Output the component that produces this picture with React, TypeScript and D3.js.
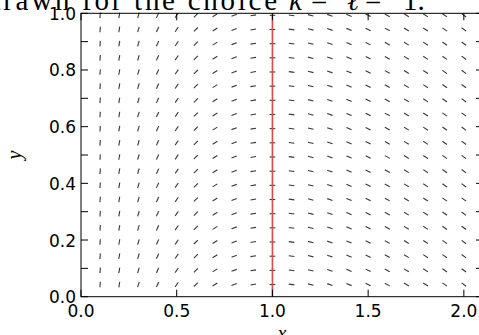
import React from "react";
import * as d3 from "d3";

const xGrid = [0.1, 0.2, 0.3, 0.4, 0.5, 0.6, 0.7, 0.8, 0.9, 1.0, 1.1, 1.2, 1.3, 1.4, 1.5, 1.6, 1.7, 1.8, 1.9, 2.0];
const yGrid = [0.05, 0.1, 0.15, 0.2, 0.25, 0.3, 0.35, 0.4, 0.45, 0.5, 0.55, 0.6, 0.65, 0.7, 0.75, 0.8, 0.85, 0.9, 0.95, 1.0];
const kParam = 1;
const lParam = 1;
const xTicks = [0.0, 0.5, 1.0, 1.5, 2.0];
const yTicksMinor = [0, 0.1, 0.2, 0.3, 0.4, 0.5, 0.6, 0.7, 0.8, 0.9, 1.0];
const yTickLabels = [0.0, 0.2, 0.4, 0.6, 0.8, 1.0];
const redLineX = 1.0;

const W = 479;
const H = 335;
const left = 81;
const right = 483;
const top = 13.3;
const bottom = 296.7;
const SERIF = "'Liberation Serif', 'DejaVu Serif', 'Times New Roman', serif";
const SANS = "'DejaVu Sans', 'Liberation Sans', sans-serif";

export default function App() {
  const x = d3.scaleLinear().domain([0, 2.1]).range([left, right]);
  const y = d3.scaleLinear().domain([0, 1]).range([bottom, top]);
  const slope = (xv: number) => kParam / xv - lParam;
  const L = 5.6;
  const marks: JSX.Element[] = [];
  xGrid.forEach((xv, i) => {
    const f = slope(xv);
    const dx = x(xv + 1) - x(xv);
    const dy = y(f) - y(0);
    const n = Math.hypot(dx, dy);
    const ux = (dx / n) * L;
    const uy = (dy / n) * L;
    yGrid.forEach((yv, j) => {
      const cx = x(xv);
      const cy = y(yv) + 2;
      marks.push(
        <line
          key={`${i}-${j}`}
          x1={cx - ux / 2}
          y1={cy - uy / 2}
          x2={cx + ux / 2}
          y2={cy + uy / 2}
          stroke="#38382e"
          strokeWidth={1.1}
        />
      );
    });
  });
  const tickLen = 7;
  return (
    <svg width={W} height={H} style={{ position: "absolute", left: 0, top: 0 }}>
      <rect x={0} y={0} width={W} height={H} fill="#fff" />
      <g>{marks}</g>
      <line x1={x(redLineX)} x2={x(redLineX)} y1={y(0)} y2={y(1)} stroke="#e24848" strokeWidth={1.6} />
      <rect x={left} y={top} width={right - left} height={bottom - top} fill="none" stroke="#000" strokeWidth={1} />
      {xTicks.map((t) => (
        <g key={`xt${t}`}>
          <line x1={x(t)} x2={x(t)} y1={bottom} y2={bottom - tickLen} stroke="#000" strokeWidth={1} />
          <line x1={x(t)} x2={x(t)} y1={top} y2={top + tickLen} stroke="#000" strokeWidth={1} />
          <text x={x(t)} y={317} textAnchor="middle" fontFamily={SANS} fontSize={17} fill="#000">
            {t.toFixed(1)}
          </text>
        </g>
      ))}
      {yTicksMinor.map((t) => (
        <g key={`yt${t}`}>
          <line x1={left} x2={left + tickLen} y1={y(t)} y2={y(t)} stroke="#000" strokeWidth={1} />
          <line x1={right} x2={right - tickLen} y1={y(t)} y2={y(t)} stroke="#000" strokeWidth={1} />
        </g>
      ))}
      {yTickLabels.map((t) => (
        <text key={`yl${t}`} x={left - 5} y={y(t) + 6.5} textAnchor="end" fontFamily={SANS} fontSize={17} fill="#000">
          {t.toFixed(1)}
        </text>
      ))}
      <text x={x(1.05)} y={340} textAnchor="middle" fontFamily={SERIF} fontStyle="italic" fontSize={20}>
        x
      </text>
      <text transform={`translate(21,${(top + bottom) / 2}) rotate(-90)`} textAnchor="middle" fontFamily={SERIF} fontStyle="italic" fontSize={20}>
        y
      </text>
      <text y={10} fontFamily={SERIF} fontSize={29} fill="#000">
        <tspan x={-14} textLength={291} lengthAdjust="spacing">drawn for the choice</tspan>
        <tspan x={289} fontStyle="italic">k</tspan>
        <tspan x={311}>=</tspan>
        <tspan x={347} fontStyle="italic">ℓ</tspan>
        <tspan x={365}>=</tspan>
        <tspan x={403}>1.</tspan>
      </text>
    </svg>
  );
}
